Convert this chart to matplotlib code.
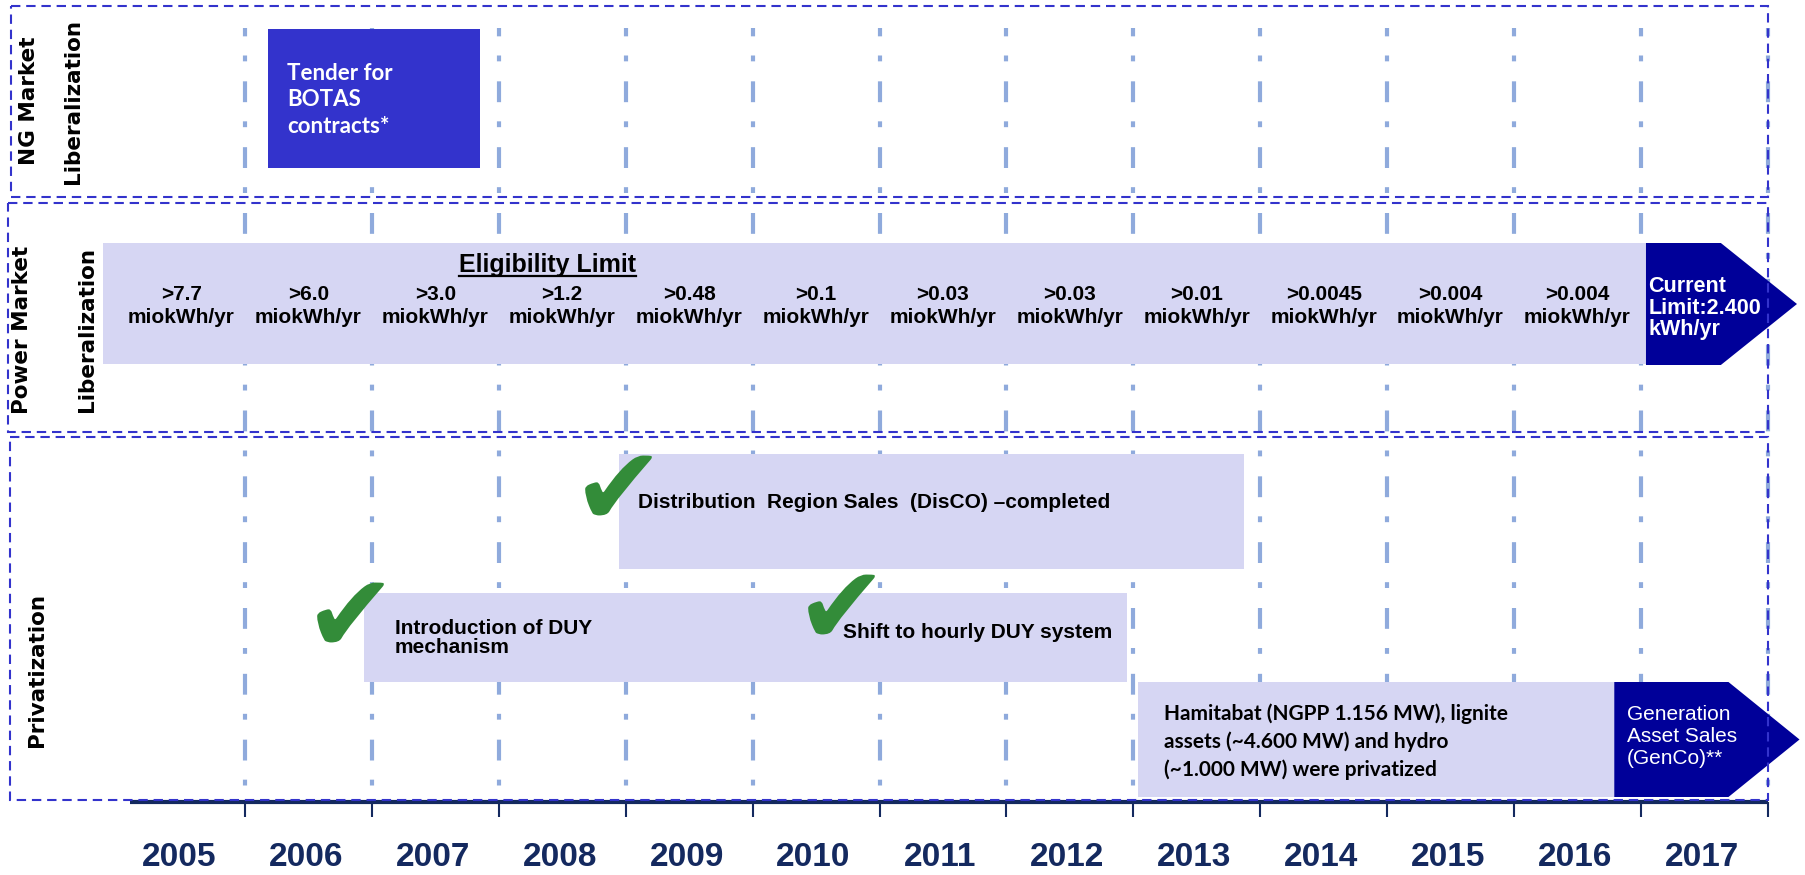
import matplotlib
matplotlib.use("Agg")
import matplotlib.pyplot as plt
from matplotlib import font_manager
from matplotlib.patches import Rectangle, Polygon

# ---- data ----
years = list(range(2005, 2018))
limit_years = list(range(2005, 2017))
limit_values = [">7.7", ">6.0", ">3.0", ">1.2", ">0.48", ">0.1", ">0.03",
                ">0.03", ">0.01", ">0.0045", ">0.004", ">0.004"]
limit_unit = "miokWh/yr"
current_limit = "Current\nLimit:2.400\nkWh/yr"
power_span = (2004.88, 2017.04)
current_span = (2017.04, 2017.63, 2018.23)   # start, body end, tip

ng_label = "Tender for\nBOTAS\ncontracts*"
ng_span = (2006.18, 2007.85)

priv_labels = ["Distribution  Region Sales  (DisCO) \u2013completed",
               "Introduction of DUY\nmechanism",
               "Shift to hourly DUY system",
               "Hamitabat (NGPP 1.156 MW), lignite\nassets (~4.600 MW) and hydro\n(~1.000 MW) were privatized"]
priv_start = [2008.95, 2006.94, 2010.62, 2013.04]
priv_end = [2013.87, 2010.75, 2012.95, 2016.79]
priv_done = [True, True, True, False]
genco_label = "Generation\nAsset Sales\n(GenCo)**"
genco_span = (2016.79, 2017.69, 2018.25)

# ---- style ----
LAV = "#D6D6F3"
NAVY = "#000099"
BLUE = "#3333CC"
GRID = "#8FAADC"
AXC = "#14295F"
GREEN = "#338C39"

avail = {f.name for f in font_manager.fontManager.ttflist}
def pick(*names):
    for n in names:
        if n in avail:
            return n
    return "DejaVu Sans"

ARIAL = pick("Liberation Sans", "Arimo")
CALIBRI = pick("Lato", "Open Sans")
NARROW = pick("Liberation Sans Narrow", "DejaVu Sans Condensed", "Liberation Sans")

fig = plt.figure(figsize=(18.05, 8.75), dpi=100)
ax = fig.add_axes([0, 0, 1, 1])
# one year = 126.9 px, boundary 2006 at x=245 px; y is in pixels from top
x0 = 2006 - 245 / 126.9
ax.set_xlim(x0, x0 + 1805 / 126.9)
ax.set_ylim(875, 0)
ax.axis("off")

def px(p):
    return x0 + p / 126.9

# gridlines
ax.vlines(range(2006, 2019), 28, 802, colors=GRID, lw=3,
          linestyles=[(3, (5.0, 4.6, 1.4, 4.8))], zorder=1)

# panel borders
panels = [(px(11), 6, 197), (px(8), 203, 432), (px(10), 437, 800)]
for (left, top, bot) in panels:
    ax.add_patch(Rectangle((left, top), 2018 - left, bot - top, fill=False,
                           ec=BLUE, lw=1.5, ls=(0, (4.5, 2.8)), zorder=6))

# panel labels
lab_kw = dict(rotation=90, ha="center", va="center", fontsize=15.5,
              fontweight="bold", family="DejaVu Sans")
ax.text(px(29), 101, "NG Market", **lab_kw)
ax.text(px(73), 101, "Liberalization", **lab_kw)
ax.text(px(22), 330, "Power Market", **lab_kw)
ax.text(px(87), 330, "Liberalization", **lab_kw)
ax.text(px(37), 670, "Privatization", **lab_kw)

# NG tender box
ax.add_patch(Rectangle((ng_span[0], 29), ng_span[1] - ng_span[0], 139,
                       fc=BLUE, ec="none", zorder=2))
ax.text(ng_span[0] + 0.15, 100, ng_label, ha="left", va="center", color="white",
        fontsize=16, fontweight="bold", family=CALIBRI, linespacing=1.3, zorder=3)

def arrow(span, top, bot, color):
    s, b, t = span
    mid = (top + bot) / 2
    ax.add_patch(Polygon([(s, top), (b, top), (t, mid), (b, bot), (s, bot)],
                         closed=True, fc=color, ec="none", zorder=2))

# power market bar
ax.add_patch(Rectangle((power_span[0], 243), power_span[1] - power_span[0], 121,
                       fc=LAV, ec="none", zorder=2))
arrow(current_span, 243, 365, NAVY)
ax.text(current_span[0] + 0.02, 308, current_limit, ha="left", va="center",
        color="white", fontsize=15.5, fontweight="bold", family=ARIAL,
        linespacing=1.05, zorder=3)
for yr, val in zip(limit_years, limit_values):
    ax.text(yr + 0.5, 306, val + "\n" + limit_unit, ha="center", va="center",
            fontsize=15, fontweight="bold", family=ARIAL, linespacing=1.25, zorder=3)
elig = ax.text(2008.38, 272, "Eligibility Limit", ha="center", va="baseline",
               fontsize=18, fontweight="bold", family=ARIAL, zorder=3)

# privatization rows: top, bottom, text y, check y, text dx, check dx
rows = [(454, 569, 503, 485, 0.15, -0.01),
        (593, 682, 638, 612, 0.24, -0.11),
        (593, 682, 632, 604, 0.09, 0.075),
        (682, 797, 742, None, 0.20, None)]
fonts = [ARIAL, ARIAL, ARIAL, CALIBRI]
for lab, s, e, done, row, fam in zip(priv_labels, priv_start, priv_end, priv_done, rows, fonts):
    top, bot, ty, cy, tdx, cdx = row
    ax.add_patch(Rectangle((s, top), e - s, bot - top, fc=LAV, ec="none", zorder=2))
    ls = 1.45 if fam == CALIBRI else 0.95
    ax.text(s + tdx, ty, lab, ha="left", va="center", fontsize=15,
            fontweight="bold", family=fam, linespacing=ls, zorder=3)
    if done:
        ax.plot([s + cdx], [cy], marker="$\u2714$", ms=48, color=GREEN,
                mec="none", zorder=4)

arrow(genco_span, 682, 797, NAVY)
ax.text(genco_span[0] + 0.1, 737, genco_label, ha="left", va="center",
        color="white", fontsize=15, family=ARIAL, linespacing=1.2, zorder=3)

# time axis
ax.plot([px(130), 2018], [802, 802], color=AXC, lw=3, solid_capstyle="butt", zorder=5)
ax.vlines(range(2006, 2019), 802, 817, colors=AXC, lw=1.5, zorder=5)
for yr in years:
    ax.text(yr + 0.48, 858, str(yr), ha="center", va="center", color=AXC,
            fontsize=24, fontweight="bold", family=NARROW)

# underline for the heading
fig.canvas.draw()
bb = elig.get_window_extent().transformed(ax.transData.inverted())
ax.plot([bb.x0, bb.x1], [276, 276], color="black", lw=1.6, zorder=3)

fig.savefig("out.png", dpi=100)
